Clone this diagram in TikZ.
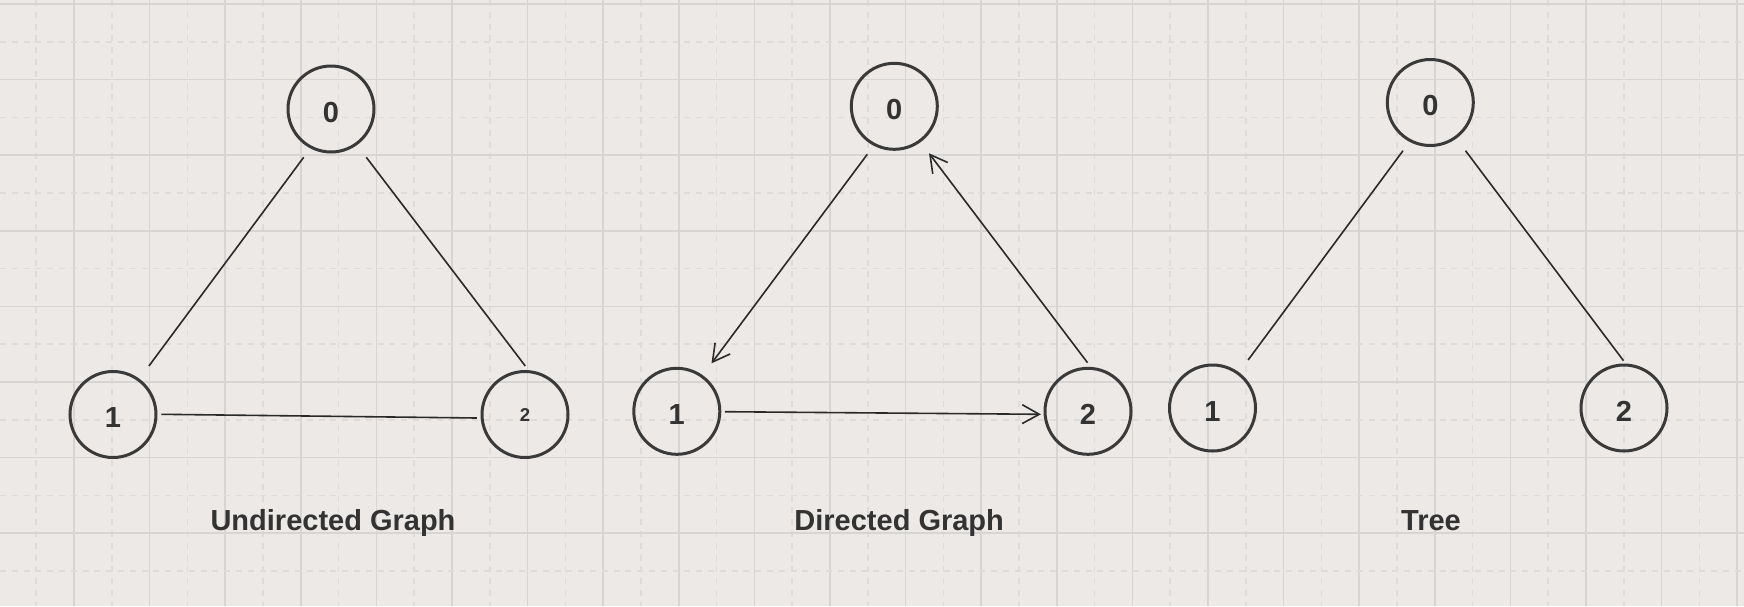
\documentclass[tikz,border=0pt]{standalone}
\usepackage{fontspec}
\setmainfont{Liberation Sans}
\usetikzlibrary{calc,arrows.meta}

\definecolor{paper}{RGB}{236,233,230}
\definecolor{gridmajor}{RGB}{215,213,212}
\definecolor{gridminor}{RGB}{222,220,219}
\definecolor{ink}{RGB}{58,58,58}
\definecolor{edgeink}{RGB}{42,42,42}
\definecolor{textink}{RGB}{51,51,51}

\begin{document}
\begin{tikzpicture}[x=0.5pt,y=-0.5pt,
  vertex/.style={circle, draw=ink, line width=1.5pt, minimum size=43pt,
    inner sep=0pt, text=textink, text height=13.4pt,
    font=\fontsize{14.5}{16}\selectfont\bfseries},
  linkline/.style={draw=edgeink, line width=0.8pt},
  arrowline/.style={linkline, -{Straight Barb[length=8.5pt,width=9.4pt]}},
  caption/.style={anchor=base, inner sep=0pt, text=textink,
    font=\fontsize{14.5}{16}\selectfont\bfseries},
  minorline/.style={draw=gridminor, line width=0.8pt, dash pattern=on 3pt off 2.9pt},
  majorline/.style={draw=gridmajor, line width=0.85pt}]

\useasboundingbox (0,0) rectangle (1744,606);
\fill[paper] (0,0) rectangle (1744,606);

% background grid: dashed half lines, then solid full lines
\foreach \i in {0,...,22} {
  \draw[minorline] ({36.2+75.6*\i},0) -- ({36.2+75.6*\i},606);
  \draw[majorline] ({74+75.6*\i},0) -- ({74+75.6*\i},606);
}
\foreach \j in {0,...,7} {
  \draw[minorline] (0,{41.8+75.6*\j}) -- (1744,{41.8+75.6*\j});
  \draw[majorline] (0,{4+75.6*\j}) -- (1744,{4+75.6*\j});
}

% undirected graph
\node[vertex] (u0) at (331,109) {0};
\node[vertex] (u1) at (113,414.5) {1};
\node[vertex, font=\fontsize{9.3}{11}\selectfont\bfseries, text height=7.2pt] (u2) at (525,414.5) {2};
\draw[linkline] ($(u0)+(-27.3,48.3)$) -- ($(u1)+(35.9,-48.5)$);
\draw[linkline] ($(u0)+(35.3,48.3)$) -- ($(u2)+(0.3,-48.5)$);
\draw[linkline] ($(u1)+(48.4,-0.2)$) -- ($(u2)+(-48.1,3.5)$);
\node[caption] (ucap) at (333,530) {Undirected Graph};

% directed graph
\node[vertex] (d0) at (894.3,106.3) {0};
\node[vertex] (d1) at (676.8,411.3) {1};
\node[vertex] (d2) at (1088,411.3) {2};
\draw[arrowline] ($(d0)+(-27,48)$) -- ($(d1)+(34.7,-48)$);
\draw[arrowline] ($(d1)+(48.1,0.4)$) -- ($(d2)+(-47.1,3)$);
\draw[arrowline] ($(d2)+(-0.5,-48.6)$) -- ($(d0)+(34.7,47)$);
\node[caption] (dcap) at (899.2,530) {Directed Graph};

% tree
\node[vertex] (t0) at (1430.3,102.5) {0};
\node[vertex] (t1) at (1212.5,408) {1};
\node[vertex] (t2) at (1624,408) {2};
\draw[linkline] ($(t0)+(-27.3,48.2)$) -- ($(t1)+(35.6,-48)$);
\draw[linkline] ($(t0)+(35.2,48.2)$) -- ($(t2)+(-0.5,-47.3)$);
\node[caption] (tcap) at (1431,530) {Tree};

\end{tikzpicture}
\end{document}
